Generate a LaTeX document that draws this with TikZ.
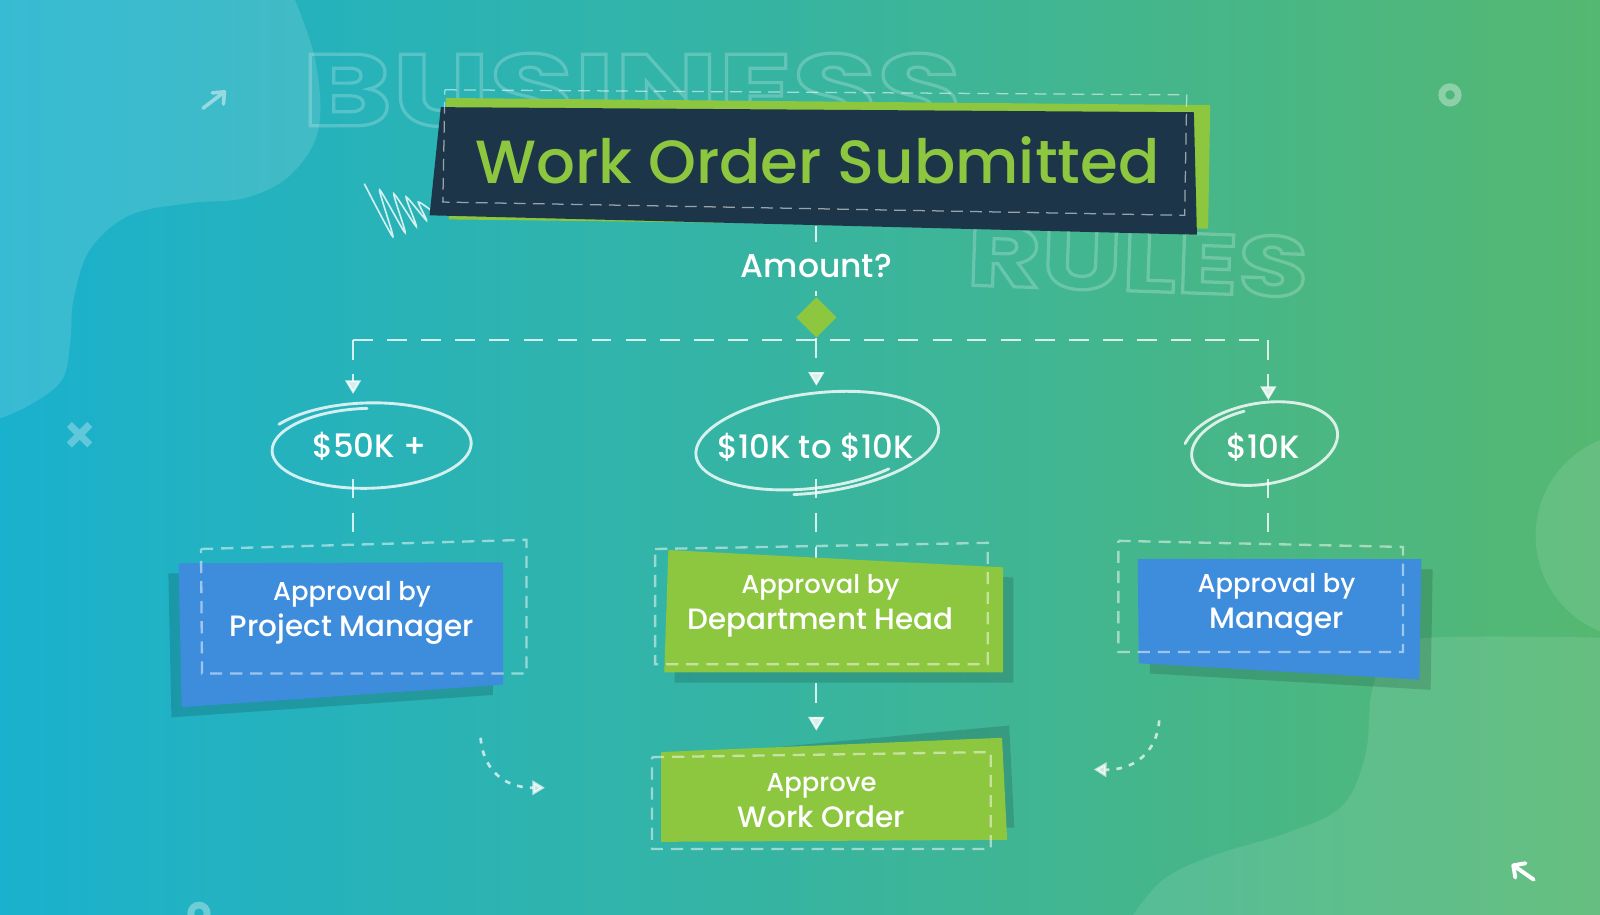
\documentclass[tikz,border=0pt]{standalone}
\usepackage{fontspec}
\setmainfont{Poppins}[UprightFont={* Medium}, BoldFont={* SemiBold}]
\newfontfamily\widefont{Poppins}[UprightFont={* Bold}, FakeStretch=1.35]
\usepackage{tikz}
\usetikzlibrary{shapes.geometric, arrows.meta, positioning, calc}

\definecolor{bgleft}{HTML}{1AB1CE}
\definecolor{bgmid}{HTML}{2BB4AE}
\definecolor{bgright}{HTML}{55B872}
\definecolor{navy}{HTML}{1D3549}
\definecolor{leaf}{HTML}{8DC63F}
\definecolor{sky}{HTML}{3E8CDC}

% outlined letters (stroke only)
\newcommand{\hollow}[1]{\special{pdf:literal direct 1 Tr 0.9 w}#1\special{pdf:literal direct 0 Tr}}

% hand drawn loop: cx, cy, rx, ry, tilt, from, to, scale at start, scale at end
\newcommand{\chalkloop}[9]{%
  \draw[chalk, shift={(#1,#2)}, rotate=#5]
    plot[domain=#6:#7, samples=100, smooth, variable=\t]
    ({#3*(#8+(#9-#8)*(\t-#6)/(#7-#6))*cos(\t)},
     {#4*(#8+(#9-#8)*(\t-#6)/(#7-#6))*sin(\t)});%
}

\begin{document}
\begin{tikzpicture}[x=0.01cm, y=-0.01cm,
    link/.style={white, opacity=0.8, line width=0.55pt, dash pattern=on 5.5pt off 4pt},
    tipped/.style={-{Triangle[width=4.4pt,length=3.8pt]}},
    boxframe/.style={white, opacity=0.5, line width=0.65pt, dash pattern=on 3.4pt off 2.2pt},
    chalk/.style={white, opacity=0.8, line width=0.8pt, line cap=round},
    castshade/.style={fill=black, fill opacity=0.14},
    curvy/.style={white, opacity=0.7, line width=0.75pt, dash pattern=on 1.6pt off 2pt, -{Triangle[width=4pt,length=3.5pt]}},
    lbl/.style={text=white, font=\fontsize{9}{11}\selectfont},
    boxtext/.style={text=white, align=center, font=\fontsize{8.2}{10}\selectfont}
]
    \useasboundingbox (0,0) rectangle (1568,896);

    % Background
    \shade[left color=bgleft, middle color=bgmid, right color=bgright] (0,0) rectangle (1568,896);
    \fill[white, opacity=0.13] plot[smooth, tension=0.6] coordinates {(287,-5) (309,59) (312,127) (284,172) (240,194) (186,199) (127,211) (88,245) (72,294) (69,333) (61,372) (29,397) (-5,412)} -- (-5,-5) -- cycle;
    \fill[white, opacity=0.1] (1606,525) circle[radius=1.01cm];
    \fill[white, opacity=0.1] plot[smooth, tension=0.6] coordinates {(1575,625) (1400,625) (1360,642) (1344,680) (1338,740) (1315,790) (1262,816) (1190,838) (1140,862) (1108,900)} -- (1575,900) -- cycle;

    % Small marks
    \draw[white, opacity=0.35, line width=1.9pt] (1421,93) circle[radius=0.08cm];
    \draw[white, opacity=0.35, line width=1.9pt] (195,895) circle[radius=0.08cm];
    \draw[white, opacity=0.3, line width=2pt] (68,416) -- (88,436) (88,416) -- (68,436);
    \draw[white, opacity=0.45, line width=1pt, line cap=round, line join=round] (199,106) -- (220,90) (208,91) -- (220,90) -- (219,102);
    \draw[white, line width=1.1pt, line cap=round, line join=round] (1503,862) -- (1483,848) (1495,846) -- (1483,848) -- (1485,860);
    \draw[white, opacity=0.8, line width=0.45pt] plot[smooth, tension=0.4] coordinates {(357,180) (385,232) (372,186) (397,228) (386,190) (408,222) (398,193) (418,216) (410,198) (425,208)};

    % Backdrop words
    \begin{scope}[opacity=0.22]
        \node[text=white, font=\widefont\fontsize{28.4}{30}\selectfont] (business) at (619,88) {\hollow{BUSINESS}};
        \node[text=white, font=\widefont\fontsize{23.6}{26}\selectfont, rotate=-2] (rules) at (1115,256) {\hollow{RULES}};
    \end{scope}

    % Title
    \fill[leaf] (437,96) -- (1186,103) -- (1184,224) -- (440,215) -- cycle;
    \fill[navy] (432,105) -- (1170,110) -- (1173,230) -- (421,211) -- cycle;
    \draw[white, opacity=0.55, line width=0.35pt, dash pattern=on 3.3pt off 2pt] (436,88) -- (1163,93) -- (1161,211) -- (434,198) -- cycle;
    \node[text=leaf, font=\fontsize{17}{20}\selectfont] (title) at (801,157) {Work Order Submitted};

    % Points on the flow
    \coordinate (tb) at (800,221);
    \coordinate (barL) at (346,333);
    \coordinate (barR) at (1243,333);
    \coordinate (in50) at (346,386);
    \coordinate (in10m) at (800,378);
    \coordinate (in10r) at (1243,392);
    \coordinate (out50) at (346,469);
    \coordinate (out10m) at (800,469);
    \coordinate (out10r) at (1243,469);
    \coordinate (pmtop) at (346,524);
    \coordinate (mgtop) at (1243,524);
    \coordinate (aotop) at (800,716);

    % Decision
    \node[lbl, font=\fontsize{9.2}{11}\selectfont] (amount) at (800,261) {Amount?};
    \node[diamond, fill=leaf, minimum width=0.4cm, minimum height=0.4cm, inner sep=0pt] (dia) at (800,311) {};
    \draw[link] (tb) -- (amount.north);
    \draw[link] (amount.south) -- (dia.north);
    \draw[link] (barL) -- (barR);
    \draw[link, tipped] (barL) -- (in50);
    \draw[link, tipped] (dia.south) -- (in10m);
    \draw[link, tipped] (barR) -- (in10r);
    \draw[link] (out50) -- (pmtop);
    \draw[link, tipped] (out10m) -- (aotop);
    \draw[link] (out10r) -- (mgtop);

    % Ranges
    \node[lbl] (e50) at (362,437) {\$50K +};
    \node[lbl] (e10m) at (799,438) {\$10K to \$10K};
    \node[lbl] (e10r) at (1238,438) {\$10K};
    \chalkloop{361}{438}{106}{44}{2}{215}{630}{1.0}{0.86}
    \chalkloop{798}{433}{121}{48}{7}{52}{462}{0.93}{1.04}
    \chalkloop{1237}{436}{79}{42}{10}{200}{620}{1.0}{0.86}

    % Approval boxes
    \fill[castshade] (165,562) -- (483,561) -- (483,681) -- (168,703) -- cycle;
    \fill[sky] (175,552) -- (493,551) -- (493,671) -- (178,693) -- cycle;
    \draw[boxframe] (197,538) -- (516,529) -- (516,660) -- (198,660) -- cycle;
    \node[boxtext] (pm) at (345,601) {{\fontsize{7.2}{10}\selectfont Approval by}\\Project Manager};

    \fill[castshade] (665,548) -- (993,566) -- (993,669) -- (661,669) -- cycle;
    \fill[leaf] (655,539) -- (983,556) -- (983,659) -- (651,659) -- cycle;
    \draw[boxframe] (642,538) -- (968,532) -- (968,651) -- (642,651) -- cycle;
    \node[boxtext] (dh) at (804,594) {{\fontsize{7.2}{10}\selectfont Approval by}\\Department Head};

    \fill[castshade] (1126,558) -- (1404,558) -- (1402,676) -- (1127,660) -- cycle;
    \fill[sky] (1115,548) -- (1393,548) -- (1391,666) -- (1116,650) -- cycle;
    \draw[boxframe] (1096,530) -- (1375,536) -- (1375,639) -- (1096,639) -- cycle;
    \node[boxtext] (mg) at (1251,593) {{\fontsize{7.2}{10}\selectfont Approval by}\\Manager};

    % Final step
    \fill[castshade] (655,742) -- (989,711) -- (994,811) -- (655,813) -- cycle;
    \fill[leaf] (648,737) -- (982,723) -- (987,823) -- (648,825) -- cycle;
    \draw[boxframe] (639,742) -- (971,737) -- (971,832) -- (639,832) -- cycle;
    \node[boxtext] (ao) at (805,785) {{\fontsize{7.2}{10}\selectfont Approve}\\Work Order};

    % Side hints
    \coordinate (cl1) at (471,723);
    \coordinate (cl2) at (534,772);
    \coordinate (cr1) at (1136,706);
    \coordinate (cr2) at (1072,754);
    \draw[curvy] (cl1) .. controls (473,752) and (492,772) .. (cl2);
    \draw[curvy] (cr1) .. controls (1134,738) and (1110,755) .. (cr2);

\end{tikzpicture}
\end{document}
